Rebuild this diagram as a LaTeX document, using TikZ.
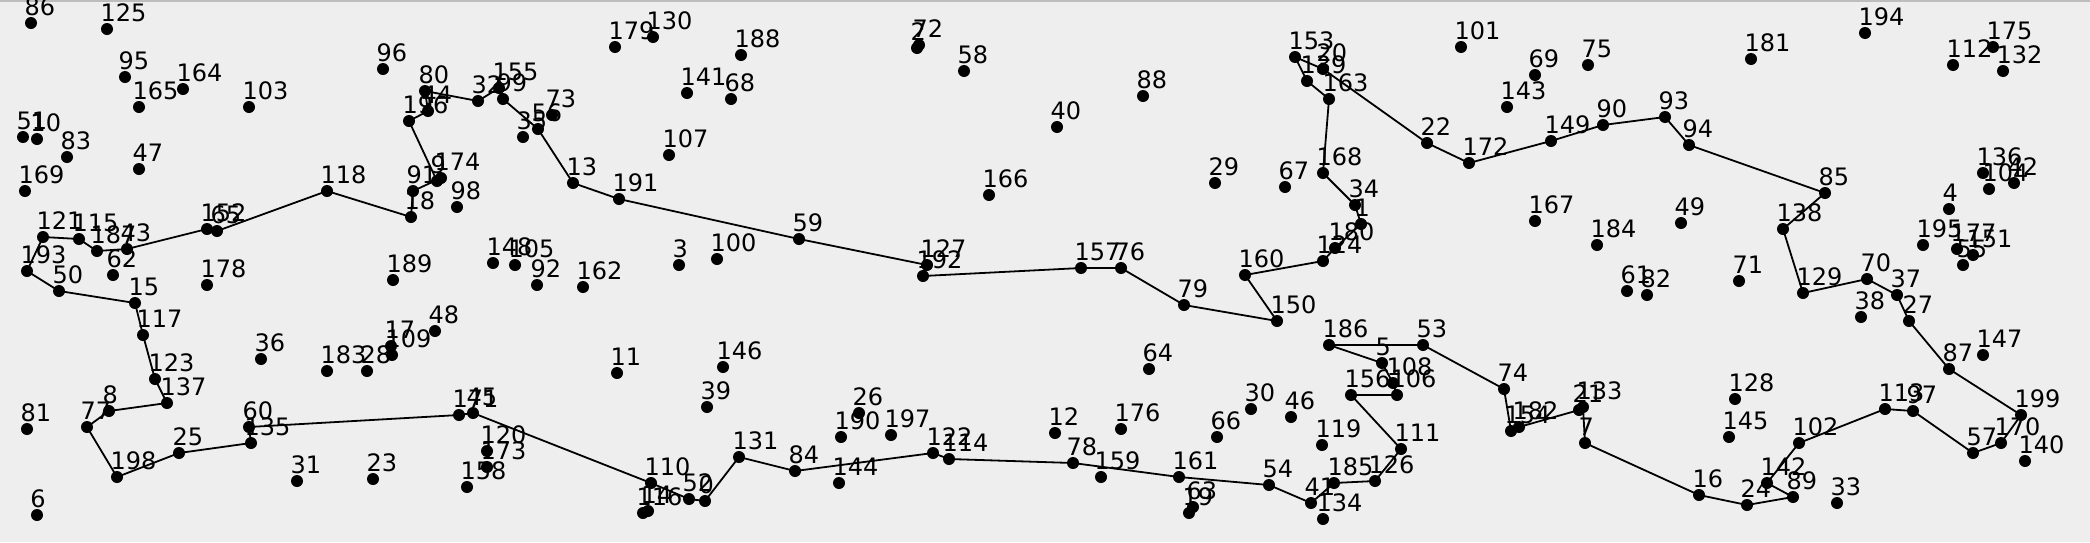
\documentclass[tikz,border=0pt]{standalone}
\usepackage{fontspec}
\setmainfont{DejaVu Sans}
\definecolor{cBack}{HTML}{EEEEEE}
\definecolor{cEdge}{HTML}{BDBDBD}
\tikzset{
  city/.style = {fill=black},
  lbl/.style  = {anchor=base west, inner sep=0pt, outer sep=0pt,
                 font=\fontsize{24}{28}\selectfont},
  tour/.style = {black, line width=1.8pt, line join=round},
}

\begin{document}
\begin{tikzpicture}[x=1pt,y=-1pt]
  \fill[cBack] (0,0) rectangle (2090,542);
  \useasboundingbox (0,0) rectangle (2090,542);
  \fill[cEdge] (0,0) rectangle (2090,2);
  % cities: name/x/y
  \foreach \n/\x/\y in {
    86/31/23, 125/107/29, 95/125/77, 164/183/89, 165/139/107, 103/249/107,
    51/23/137, 10/37/139, 83/67/157, 47/139/169, 169/25/191, 118/327/191,
    121/43/237, 115/79/239, 187/97/251, 43/127/249, 193/27/271, 62/113/275,
    152/207/229, 65/217/231, 50/59/291, 178/207/285, 15/135/303, 117/143/335,
    36/261/359, 183/327/371, 123/155/379, 137/167/403, 8/109/411, 77/87/427,
    81/27/429, 60/249/427, 135/251/443, 25/179/453, 198/117/477, 31/297/481,
    6/37/515, 189/393/280, 92/537/285, 162/583/287, 48/435/331, 17/391/346,
    109/392/355, 28/367/371, 11/617/373, 171/459/415, 45/473/413, 120/487/451,
    173/487/467, 158/467/487, 23/373/479, 110/651/483, 116/643/513, 14/648/511,
    52/689/499, 0/705/501, 146/723/367, 39/707/407, 26/859/413, 190/841/437,
    197/891/435, 131/739/457, 84/795/471, 144/839/483, 122/933/453, 114/949/459,
    96/383/69, 80/425/91, 44/428/111, 196/409/121, 32/478/101, 155/499/88,
    99/503/99, 73/552/115, 56/538/129, 35/523/137, 9/437/181, 174/441/178,
    91/413/191, 18/411/217, 98/457/207, 13/573/183, 191/619/199, 179/615/47,
    130/653/37, 141/687/93, 107/669/155, 148/493/263, 105/515/265, 3/679/265,
    188/741/55, 68/731/99, 2/917/48, 72/919/45, 58/964/71, 166/989/195,
    59/799/239, 100/717/259, 127/927/265, 192/923/276, 88/1143/96, 40/1057/127,
    153/1295/57, 139/1307/81, 20/1323/69, 163/1329/99, 168/1323/173, 67/1285/187,
    29/1215/183, 34/1355/205, 1/1361/224, 180/1335/248, 124/1323/261, 160/1245/275,
    157/1081/268, 76/1121/268, 101/1461/47, 69/1535/75, 75/1588/65, 143/1507/107,
    22/1427/143, 172/1469/163, 149/1551/141, 90/1603/125, 93/1665/117, 94/1689/145,
    167/1535/221, 184/1597/245, 49/1681/223, 61/1627/291, 82/1647/295, 194/1865/33,
    181/1751/59, 112/1953/65, 175/1993/47, 132/2003/71, 136/1983/173, 104/1989/189,
    42/2014/183, 85/1825/193, 138/1783/229, 4/1949/209, 195/1923/245, 177/1957/249,
    151/1973/255, 55/1963/265, 71/1739/281, 129/1803/293, 70/1867/279, 37/1897/295,
    38/1861/317, 27/1909/321, 147/1983/355, 87/1949/369, 128/1735/399, 145/1729/437,
    113/1885/409, 97/1913/411, 199/2021/415, 170/2001/443, 57/1973/453, 140/2025/461,
    102/1799/443, 142/1767/483, 89/1793/497, 24/1747/505, 33/1837/503, 16/1699/495,
    53/1423/345, 5/1382/363, 108/1393/383, 106/1397/395, 74/1504/389, 154/1511/431,
    182/1519/427, 21/1579/410, 133/1583/407, 7/1585/443, 111/1401/449, 126/1375/481,
    79/1184/305, 150/1277/321, 186/1329/345, 64/1149/369, 156/1351/395, 30/1251/409,
    46/1291/417, 12/1055/433, 176/1121/429, 66/1217/437, 119/1322/445, 78/1073/463,
    159/1101/477, 161/1179/477, 54/1269/485, 63/1193/507, 19/1189/513, 41/1311/503,
    185/1334/483, 134/1323/519} {
    \coordinate (v\n) at (\x,\y);
    \fill[city] (v\n) circle (6pt);
    \node[lbl] (t\n) at (\x-6.5,\y-7.5) {\n};
  }
  % tour
  \draw[tour] (v193) -- (v50) -- (v15) -- (v117) -- (v123) -- (v137) -- (v8)
    -- (v77) -- (v198) -- (v25) -- (v135) -- (v60) -- (v171) -- (v45) -- (v110)
    -- (v52) -- (v0) -- (v131) -- (v84) -- (v122) -- (v114) -- (v78) -- (v161)
    -- (v54) -- (v41) -- (v185) -- (v126) -- (v111) -- (v156) -- (v106) -- (v108)
    -- (v5) -- (v186) -- (v53) -- (v74) -- (v154) -- (v182) -- (v21) -- (v133)
    -- (v7) -- (v16) -- (v24) -- (v89) -- (v142) -- (v102) -- (v113) -- (v97)
    -- (v57) -- (v170) -- (v199) -- (v87) -- (v27) -- (v37) -- (v70) -- (v129)
    -- (v138) -- (v85) -- (v94) -- (v93) -- (v90) -- (v149) -- (v172) -- (v22)
    -- (v20) -- (v153) -- (v139) -- (v163) -- (v168) -- (v34) -- (v1) -- (v180)
    -- (v124) -- (v160) -- (v150) -- (v79) -- (v76) -- (v157) -- (v192) -- (v127)
    -- (v59) -- (v191) -- (v13) -- (v56) -- (v99) -- (v155) -- (v32) -- (v80)
    -- (v44) -- (v196) -- (v9) -- (v174) -- (v91) -- (v18) -- (v118) -- (v65)
    -- (v152) -- (v43) -- (v187) -- (v115) -- (v121) -- cycle;
\end{tikzpicture}
\end{document}
